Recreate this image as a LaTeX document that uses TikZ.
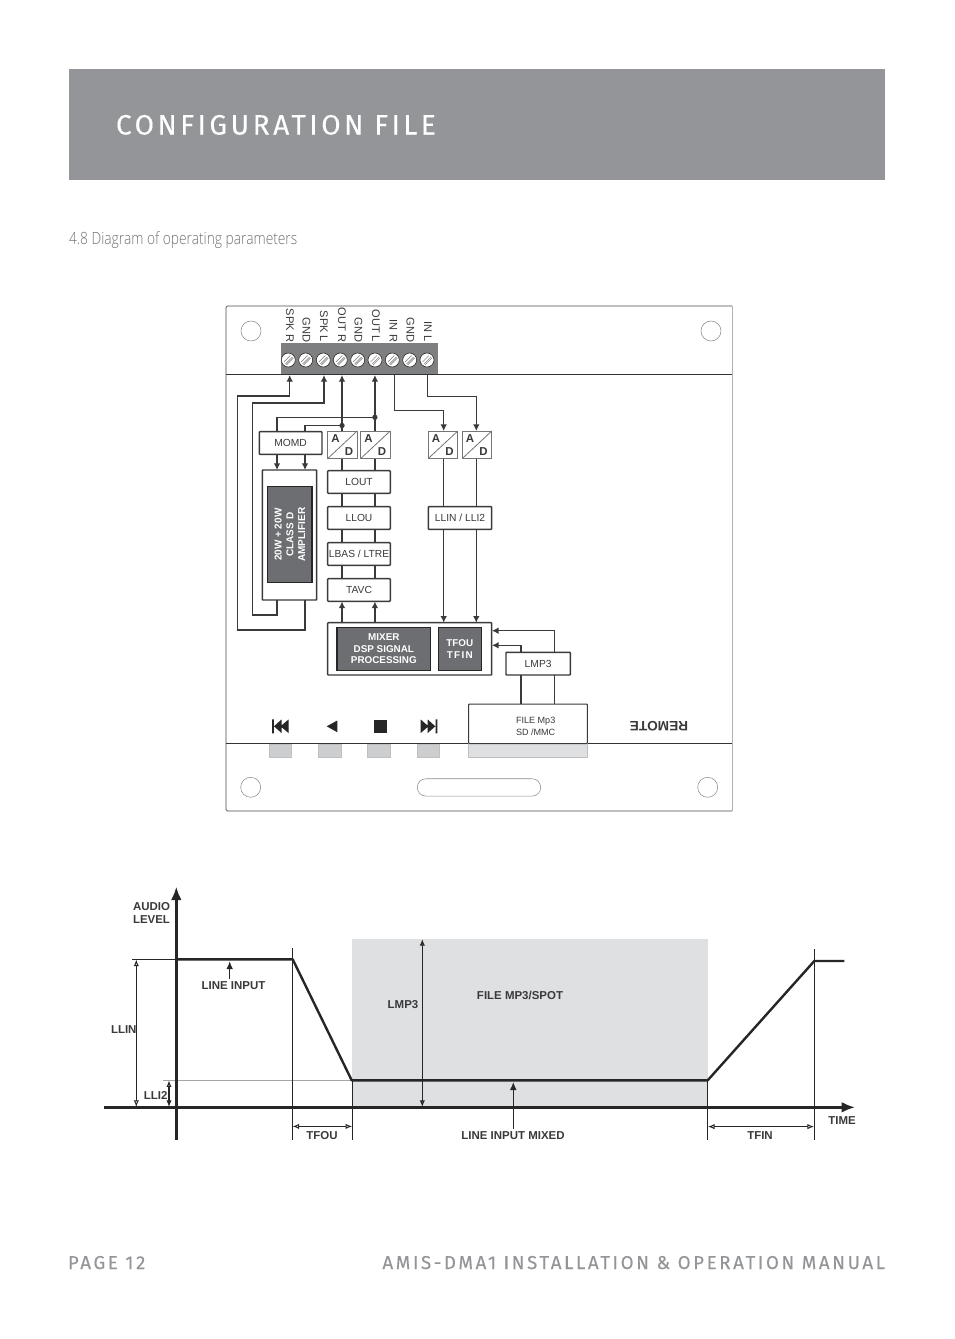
\documentclass[tikz,border=0pt]{standalone}
\usepackage{fontspec}
\setmainfont{Liberation Sans}
\newfontfamily\din[LetterSpace=12.7,FakeBold=0.15]{Fira Sans}
\newfontfamily\dinf[LetterSpace=14,FakeBold=0.2]{Fira Sans}
\newfontfamily\narrow[FakeStretch=0.82]{Open Sans Light}
\usetikzlibrary{arrows.meta,calc}
\definecolor{hdr}{HTML}{939598}
\definecolor{dk}{HTML}{6D6E71}
\definecolor{lg}{HTML}{DFE0E1}
\definecolor{ln}{HTML}{3A3A3C}
\tikzset{
  x=0.75pt,y=-0.75pt,
  every node/.style={inner sep=0,outer sep=0},
  wire/.style={draw=ln,line width=1pt},
  awire/.style={wire,-{Latex[length=5pt,width=5pt]}},
  box/.style={draw=ln,line width=1.1pt,fill=white,rounded corners=0.5pt,text=ln,font=\fontsize{7.7}{9}\selectfont},
  adbox/.style={draw=ln!70,line width=0.6pt,fill=white},
  dark/.style={draw=black!85,line width=1.1pt,fill=dk,text=white,align=center,font=\bfseries\fontsize{7.4}{8.4}\selectfont},
  hole/.style={draw=black!45,line width=0.4pt,fill=white,circle},
  pin/.style={font=\fontsize{8.3}{9}\selectfont,text=ln,rotate=-90,anchor=west},
  lab/.style={font=\bfseries\fontsize{8.6}{9.2}\selectfont,text=ln,align=center},
  thick axis/.style={draw=black!85,line width=1.8pt},
  vline/.style={draw=black!85,line width=1pt},
  dimarr/.style={draw=black!85,line width=0.75pt,{Latex[open,length=5pt,width=4pt]}-{Latex[open,length=5pt,width=4pt]}},
  fillarr/.style={draw=black!85,line width=0.9pt,{Latex[length=5pt,width=4pt]}-{Latex[length=5pt,width=4pt]}},
}
\newcommand{\boxat}[6]{\node[box,minimum width=#4*0.75pt,minimum height=#5*0.75pt,anchor=north west] (#1) at (#2,#3) {#6};}
\newcommand{\adc}[3]{%
  \node[adbox,minimum width=29.5*0.75pt,minimum height=27.5*0.75pt,anchor=north west] (#1) at (#2,#3) {};
  \draw[draw=ln!70,line width=0.6pt] (#1.south west) -- (#1.north east);
  \node[font=\bfseries\fontsize{8.6}{9}\selectfont,text=ln] (#1a) at ($(#1.center)+(-7,-6.5)$) {A};
  \node[font=\bfseries\fontsize{8.6}{9}\selectfont,text=ln] (#1d) at ($(#1.center)+(6.5,6.5)$) {D};}
\begin{document}
\begin{tikzpicture}
\useasboundingbox (0,0) rectangle (954,1339);
\fill[white] (0,0) rectangle (954,1339);
% header
\node[fill=hdr,minimum width=816*0.75pt,minimum height=111*0.75pt,anchor=north west] (hdr) at (69,69) {};
\node[anchor=base west,text=white,font=\din\fontsize{21}{24}\selectfont] (title) at (116,134.5) {CONFIGURATION FILE};
\node[anchor=base west,text=black!55,font=\narrow\fontsize{12.6}{14}\selectfont] (sub) at (69,244) {4.8 Diagram of operating parameters};
% footer
\node[anchor=base west,text=hdr,font=\dinf\fontsize{14}{15}\selectfont] (pg) at (68,1269) {PAGE 12};
\node[anchor=base east,text=hdr,font=\dinf\fontsize{14}{15}\selectfont] (man) at (885,1269) {AMIS-DMA1 INSTALLATION \& OPERATION MANUAL};
% panel
\draw[draw=black!30,line width=0.4pt] (732,306) -- (732,811);
\draw[draw=black!70,line width=0.6pt,rounded corners=1pt] (732,306) -- (226,306) -- (226,811) -- (732,811);
\draw[draw=black!80,line width=0.7pt] (226,374.5) -- (732,374.5);
\draw[draw=black!80,line width=0.7pt] (226,743.5) -- (732,743.5);
\node[hole,minimum size=20*0.75pt] (h1) at (251,331) {};
\node[hole,minimum size=20*0.75pt] (h2) at (711,331) {};
\node[hole,minimum size=20*0.75pt] (h3) at (250.7,787.3) {};
\node[hole,minimum size=20*0.75pt] (h4) at (707.7,787.3) {};
\node[draw=black!45,line width=0.4pt,rounded corners=6.4pt,minimum width=123.4*0.75pt,minimum height=17.3*0.75pt] (slot) at (479,787.4) {};
% terminal block
\node[fill=hdr!85!black,minimum width=157*0.75pt,minimum height=31*0.75pt,anchor=north west] (tb) at (281,343) {};
\foreach \n/\x in {1/288.3,2/305.7,3/323.3,4/340.3,5/357.7,6/375,7/392.3,8/409.7,9/427}{
  \node[circle,draw=black!80,line width=0.5pt,fill=white,minimum size=14*0.75pt] (s\n) at (\x,360) {};
  \draw[black!45,line width=0.5pt] (\x-4.5,360+2) -- (\x+2,360-4.5) (\x-3,360+4) -- (\x+4,360-3) (\x-2,360+5) -- (\x+5,360-2);
}
\foreach \n/\x/\t in {1/290/SPK R,2/306.5/GND,3/324/SPK L,4/342/OUT R,5/358.5/GND,6/376/OUT L,7/393.5/IN R,8/410.5/GND,9/428/IN L}{
  \node[pin,anchor=east] (p\n) at (\x,342) {\t};
}
% boxes
\boxat{momd}{259.3}{431.7}{62.7}{22.6}{MOMD}
\node[box,line width=1.1pt,minimum width=54.4*0.75pt,minimum height=130*0.75pt,anchor=north west] (amp) at (262.3,470) {};
\node[dark,minimum width=96*0.75pt,minimum height=44.3*0.75pt,rotate=90] (ampin) at (289.8,534.7) {};
\node[rotate=90,text=white,align=center,font=\bfseries\fontsize{7.5}{8.8}\selectfont] (amptxt) at (289.8,534.7) {20W + 20W\\CLASS D\\AMPLIFIER};
\adc{ad1}{327.7}{431}
\adc{ad2}{360.7}{431}
\adc{ad3}{428.3}{431}
\adc{ad4}{462.3}{431}
\boxat{lout}{327.7}{470.7}{62.6}{22.6}{LOUT}
\boxat{llou}{327.7}{506.7}{62.6}{22.6}{LLOU}
\boxat{lbas}{327.7}{542.7}{62.6}{22.6}{LBAS / LTRE}
\boxat{tavc}{327.7}{578.7}{62.6}{22.6}{TAVC}
\boxat{llin}{428.3}{506.7}{63.4}{22.6}{LLIN / LLI2}
\node[box,minimum width=164*0.75pt,minimum height=52.3*0.75pt,anchor=north west] (mix) at (327.7,622.7) {};
\node[dark,minimum width=93.7*0.75pt,minimum height=43*0.75pt,anchor=north west] (mixer) at (337,627.3) {MIXER\\DSP SIGNAL\\PROCESSING};
\node[dark,minimum width=43*0.75pt,minimum height=43*0.75pt,anchor=north west,font=\bfseries\fontsize{7.4}{8.8}\selectfont] (tf) at (438.3,627.3) {TFOU\\[0.5pt]{\addfontfeature{LetterSpace=14}TFIN}};
\boxat{lmp}{506}{652.3}{64.3}{22.7}{LMP3}
% remote buttons
\foreach \n/\x/\w in {1/269.3/22.4,2/318.3/22.7,3/367.7/22.6,4/417.3/22.4}{
  \node[fill=lg!92!black,draw=black!25,line width=0.4pt,minimum width=\w*0.75pt,minimum height=13.5*0.75pt,anchor=north west] (b\n) at (\x,743.8) {};
}
\fill[lg,draw=black!25,line width=0.4pt] (468.7,743.5) -- (468.7,757.3) -- (587.3,757.3) -- (587.3,743.5) -- cycle;
\node[draw=ln,line width=0.75pt,fill=white,minimum width=118.6*0.75pt,minimum height=39.5*0.75pt,anchor=north west,rounded corners=0.5pt] (file) at (468.7,704) {};
\node[align=left,anchor=west,text=ln,font=\fontsize{6.8}{8.8}\selectfont] (filet) at (516,726.5) {FILE Mp3\\SD /MMC};
\fill[black!85] (272,719.3) rectangle (273.8,733.3) (280.5,726.3) -- (288.5,719.5) -- (288.5,733) -- cycle (274,726.3) -- (281.5,719.5) -- (281.5,733) -- cycle;
\fill[black!85] (326.7,726.3) -- (337.3,720.5) -- (337.3,732.2) -- cycle;
\fill[black!85] (374,720.3) rectangle (387,733);
\fill[black!85] (435.5,719.3) rectangle (437.3,733.3) (428.5,726.3) -- (420.7,719.5) -- (420.7,733) -- cycle (435.3,726.3) -- (427.7,719.5) -- (427.7,733) -- cycle;
\node[rotate=180,text=ln,font=\bfseries\fontsize{10.2}{11}\selectfont] (rem) at (659,726.5) {REMOTE};
% wires
\draw[awire] (305,600) |- (237.7,630) |- (289.7,396) -- (289.7,375);
\draw[awire] (277,600) |- (252.7,615) |- (324,403) -- (324,375);
\coordinate (dotr) at (342,425.5);
\coordinate (dotl) at (374.9,417.3);
\draw[awire] (342,431) -- (342,375);
\draw[awire] (374.9,431) -- (374.9,375);
\draw[wire] (dotr) -| (305,431.7);
\draw[wire] (dotl) -| (277,431.7);
\fill[ln] (dotr) circle[radius=2pt] (dotl) circle[radius=2pt];
\draw[awire] (277,454.3) -- (277,470);
\draw[awire] (305,454.3) -- (305,470);
\draw[wire] (342,458.5) -- (342,470.7) (374.9,458.5) -- (374.9,470.7);
\draw[wire] (342,493.3) -- (342,506.7) (374.9,493.3) -- (374.9,506.7);
\draw[wire] (342,529.3) -- (342,542.7) (374.9,529.3) -- (374.9,542.7);
\draw[wire] (342,565.3) -- (342,578.7) (374.9,565.3) -- (374.9,578.7);
\draw[awire] (342,622.7) -- (342,601.5);
\draw[awire] (374.9,622.7) -- (374.9,601.5);
\draw[awire] (394.7,374.5) |- (443.7,410.3) -- (443.7,431);
\draw[awire] (427.3,374.5) |- (476.3,396.3) -- (476.3,431);
\draw[wire] (443.7,458.5) -- (443.7,506.7) (476.3,458.5) -- (476.3,506.7);
\draw[awire] (443.7,529.3) -- (443.7,622.7);
\draw[awire] (476.3,529.3) -- (476.3,622.7);
\draw[awire] (521,652.3) |- (491.9,645.3);
\draw[awire] (554.3,652.3) |- (491.9,630.7);
\draw[wire,line width=1.1pt] (521,675) -- (521,704) (554.3,675) -- (554.3,704);
% chart
\fill[lg] (352,938.7) rectangle (707.7,1107);
\draw[black!85,line width=0.4pt] (132,959.3) -- (176,959.3);
\draw[black!35,line width=0.5pt] (162.7,1080.3) -- (352,1080.3);
\draw[vline] (292.3,948.3) -- (292.3,1140);
\draw[vline] (352.3,1080.3) -- (352.3,1140);
\draw[vline] (707.7,1080.3) -- (707.7,1140);
\draw[vline] (814.3,949.3) -- (814.3,1140);
\draw[thick axis,-{Latex[length=10pt,width=8pt]}] (176.3,1140) -- (176.3,886.7);
\draw[thick axis,-{Latex[length=10pt,width=8pt]}] (104,1107.3) -- (855,1107.3);
\draw[thick axis,line join=round] (176.3,959.3) -- (292.7,959.3) -- (351.7,1080.3) -- (707.7,1080.3) -- (814.3,961) -- (844.3,961);
\draw[dimarr] (136.3,959.5) -- (136.3,1107);
\draw[fillarr,{Latex[open,length=5pt,width=4pt]}-{Latex[length=5pt,width=4pt]}] (169,1080.3) -- (169,1107);
\draw[dimarr,line width=0.9pt] (422.3,939) -- (422.3,1107);
\draw[draw=black!85,line width=0.9pt,-{Latex[length=6pt,width=5pt]}] (229.7,979.3) -- (229.7,961.2);
\draw[draw=black!85,line width=0.9pt,-{Latex[length=6pt,width=5pt]}] (513.3,1129) -- (513.3,1082);
\draw[dimarr] (292.5,1126.4) -- (352.2,1126.4);
\draw[dimarr] (707.9,1126.6) -- (814.1,1126.6);
\node[lab,anchor=west,align=left] (al) at (133,913) {AUDIO\\LEVEL};
\node[lab] (li) at (233.5,986) {LINE INPUT};
\node[lab,anchor=east] (llint) at (136.5,1029.5) {LLIN};
\node[lab,anchor=east] (lli2t) at (167.5,1095) {LLI2};
\node[lab] (lm) at (403,1005) {LMP3};
\node[lab] (fm) at (520,995) {FILE MP3/SPOT};
\node[lab] (lim) at (513,1136) {LINE INPUT MIXED};
\node[lab] (tfo) at (322,1135.5) {TFOU};
\node[lab] (tfi) at (760,1135.5) {TFIN};
\node[lab] (tm) at (842,1121) {TIME};
\end{tikzpicture}
\end{document}
